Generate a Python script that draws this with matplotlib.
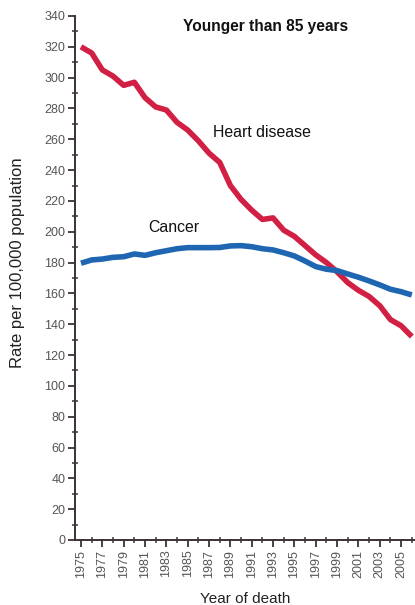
import matplotlib
matplotlib.use("Agg")
import matplotlib.pyplot as plt
from matplotlib.ticker import MultipleLocator

plt.rcParams['font.family'] = ['Liberation Sans', 'DejaVu Sans']

years = list(range(1975, 2007))
heart = [320, 316, 305, 301, 295, 297, 287, 281, 279, 271, 266, 259, 251, 245, 230, 221,
         214, 208, 209, 201, 197, 191, 185, 180, 174, 167, 162, 158, 152, 143, 139, 132]
cancer = [179.6, 181.7, 182.3, 183.4, 183.8, 185.6, 184.7, 186.4, 187.7, 189.0, 189.7, 189.7,
          189.7, 189.8, 190.8, 191.0, 190.3, 189.0, 188.2, 186.4, 184.3, 181.0, 177.4, 175.7,
          174.8, 172.6, 170.5, 168.1, 165.5, 162.7, 161.1, 159.0]
ytick_vals = list(range(0, 341, 20))
xtick_vals = list(range(1975, 2006, 2))

fig = plt.figure(figsize=(4.15, 6.05), dpi=100)
ax = fig.add_axes([75/415, 1-540/605, (415-75)/415, (540-16)/605])

ax.plot(years, heart, color='#d21f44', lw=4.0, solid_capstyle='butt', solid_joinstyle='round')
ax.plot(years, cancer, color='#1f66b2', lw=4.0, solid_capstyle='butt', solid_joinstyle='round')

ax.set_xlim(1974.44, 2006.3)
ax.set_ylim(0, 340)

ax.spines['top'].set_visible(False)
ax.spines['right'].set_visible(False)
for s in ('left', 'bottom'):
    ax.spines[s].set_color('#3b3333')
    ax.spines[s].set_linewidth(1.4)

ax.set_yticks(ytick_vals)
ax.yaxis.set_minor_locator(MultipleLocator(10))
ax.set_xticks(xtick_vals)
ax.set_xticklabels([str(y) for y in xtick_vals], rotation=90)
ax.xaxis.set_minor_locator(MultipleLocator(1))

ax.tick_params(axis='both', which='major', direction='out', length=5, width=1.3,
               color='#3b3333', labelsize=9, labelcolor='#555555', pad=2)
ax.tick_params(axis='both', which='minor', direction='inout', length=5, width=1.1,
               color='#3b3333')

ax.set_ylabel('Rate per 100,000 population', fontsize=12, color='#222222')
ax.yaxis.set_label_coords(-0.148, 0.53)
ax.set_xlabel('Year of death', fontsize=11, color='#222222', labelpad=10)

ax.text(1992.3, 333, 'Younger than 85 years', fontsize=11.2, fontweight='bold',
        ha='center', va='center', color='#111111')
ax.text(1987.4, 264.5, 'Heart disease', fontsize=11.4, ha='left', va='center', color='#111111')
ax.text(1981.3, 203, 'Cancer', fontsize=11.4, ha='left', va='center', color='#111111')

fig.savefig('out.png', dpi=100)
